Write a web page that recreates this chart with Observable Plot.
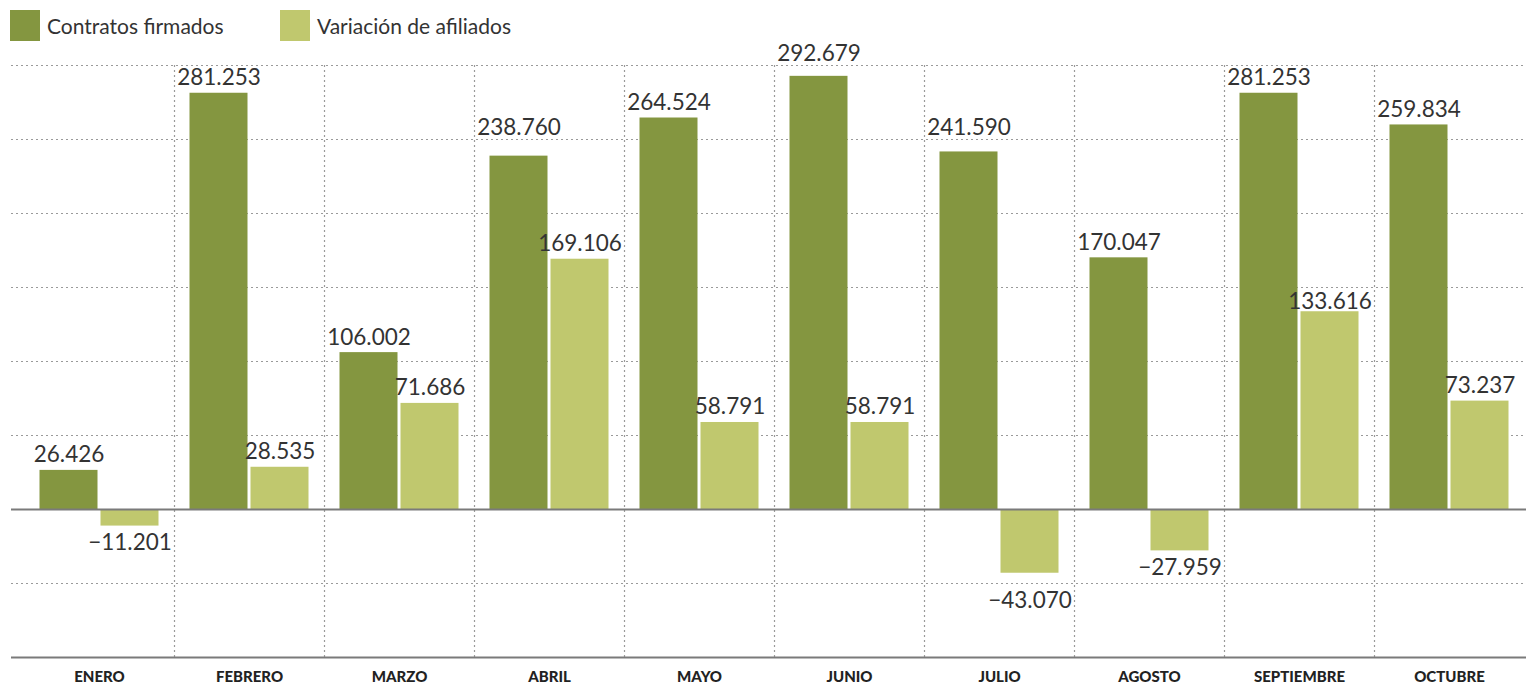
<!DOCTYPE html>
<html>
<head>
<meta charset="utf-8">
<script src="https://cdn.jsdelivr.net/npm/d3@7"></script>
<script src="https://cdn.jsdelivr.net/npm/@observablehq/plot@0.6"></script>
<style>
  html, body { margin: 0; padding: 0; background: #fff; }
  body { width: 1526px; height: 686px; overflow: hidden; font-family: Lato, "Open Sans", sans-serif; color: #333; }
  #legend { height: 30px; position: relative; }
  .item { position: absolute; top: 10px; display: flex; align-items: center; font-size: 21px; color: #333; height: 31px; }
  .sw { width: 30px; height: 31px; margin-right: 7px; }
  #chart svg { overflow: visible; display: block; }
</style>
</head>
<body>
<div id="legend"></div>
<div id="chart"></div>
<script>
const months = ["ENERO", "FEBRERO", "MARZO", "ABRIL", "MAYO", "JUNIO", "JULIO", "AGOSTO", "SEPTIEMBRE", "OCTUBRE"];
const contratos = [26426, 281253, 106002, 238760, 264524, 292679, 241590, 170047, 281253, 259834];
const afiliados = [-11201, 28535, 71686, 169106, 58791, 58791, -43070, -27959, 133616, 73237];
const seriesNames = ["Contratos firmados", "Variación de afiliados"];
const seriesColors = ["#849640", "#c0c86e"];
const gridValues = [-50000, 50000, 100000, 150000, 200000, 250000, 300000];
const yDomain = [-100000, 300000];

const fmt = d3.formatLocale({decimal: ",", thousands: ".", grouping: [3], currency: ["", "€"], minus: "−"}).format(",d");

// legend
const legend = document.getElementById("legend");
const legendX = [10, 280];
seriesNames.forEach((name, i) => {
  const it = document.createElement("div");
  it.className = "item";
  it.style.left = legendX[i] + "px";
  it.innerHTML = `<div class="sw" style="background:${seriesColors[i]}"></div><span>${name}</span>`;
  legend.appendChild(it);
});

const W = 1526, H = 656, MT = 35, MB = 29;
const yRange = [H - MB, MT];
const yScale = Plot.scale({y: {domain: yDomain, range: yRange}});
const gridPx = gridValues.map(v => yScale.apply(v));

const FS = 22.5, CAP = 17, GAP = 8;
// place value labels next to bar end, nudged off any dotted gridline they would cross
function labelY(v) {
  const end = yScale.apply(v);
  let baseline;
  if (v >= 0) {
    baseline = end - GAP;
    for (const g of gridPx) {
      const cap = baseline - CAP;
      if (g >= cap - 2 && g <= baseline + 2) {
        const up = g - 5;
        const down = g + 4 + CAP;
        if (down <= end - 2 && (down - baseline) < (baseline - up)) baseline = down;
        else baseline = up;
      }
    }
  } else {
    let cap = end + 7;
    for (const g of gridPx) {
      if (g >= cap - 2 && g <= cap + CAP + 2) cap = g + 7;
    }
    baseline = cap + CAP;
  }
  return yScale.invert(baseline - 0.32 * FS);
}

const dataC = months.map((m, i) => ({month: m, value: contratos[i]}));
const dataA = months.map((m, i) => ({month: m, value: afiliados[i]}));

const chart = Plot.plot({
  width: W,
  height: H,
  marginTop: MT,
  marginBottom: MB,
  marginLeft: 11,
  marginRight: 0,
  style: {fontFamily: "Lato, 'Open Sans', sans-serif", background: "#fff", color: "#333", overflow: "visible"},
  x: {type: "band", domain: months, range: [23.5, 1523.5], padding: 0, axis: null},
  y: {domain: yDomain, range: yRange, axis: null},
  marks: [
    Plot.ruleY(gridValues, {stroke: "#9a9a9a", strokeWidth: 1.2, strokeDasharray: "2,3"}),
    Plot.ruleX(months.slice(1), {x: d => d, y1: -100000, y2: 300000, dx: -75, stroke: "#9a9a9a", strokeWidth: 1.2, strokeDasharray: "2,3"}),
    Plot.barY(dataC, {x: "month", y: "value", fill: seriesColors[0], insetLeft: 15.5, insetRight: 76.5}),
    Plot.barY(dataA, {x: "month", y: "value", fill: seriesColors[1], insetLeft: 76.5, insetRight: 15.5}),
    Plot.ruleY([0, -100000], {stroke: "#7a7a7a", strokeWidth: 2}),
    Plot.text(dataC, {x: "month", y: d => labelY(d.value), text: d => fmt(d.value), dx: -30.5, fontSize: FS, fill: "#333"}),
    Plot.text(dataA, {x: "month", y: d => labelY(d.value), text: d => fmt(d.value), dx: 30.5, fontSize: FS, fill: "#333"}),
    Plot.text(months, {x: d => d, y: -100000, text: d => d, dy: 20, fontSize: 15, fontWeight: 900, fill: "#222", style: "letter-spacing:-0.3px"})
  ]
});
document.getElementById("chart").appendChild(chart);
</script>
</body>
</html>
